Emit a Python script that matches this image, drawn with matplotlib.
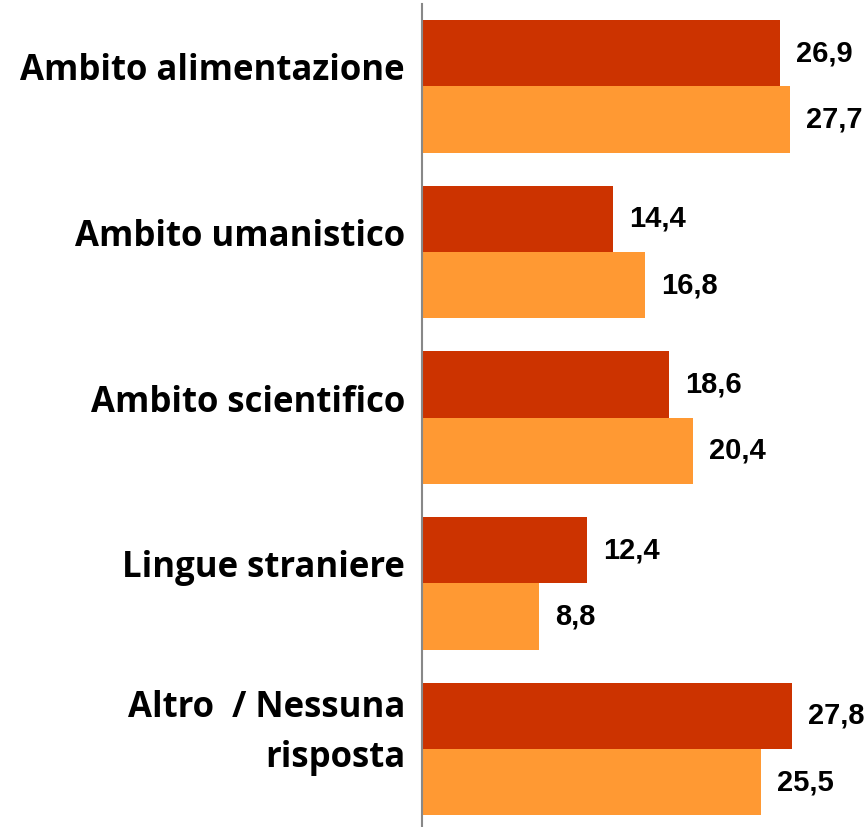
import matplotlib
matplotlib.use("Agg")
import matplotlib.pyplot as plt
import numpy as np

categories = ["Ambito alimentazione", "Ambito umanistico", "Ambito scientifico",
              "Lingue straniere", "Altro  / Nessuna\nrisposta"]
serie_1 = [26.9, 14.4, 18.6, 12.4, 27.8]
serie_2 = [27.7, 16.8, 20.4, 8.8, 25.5]

color_1 = "#CC3300"
color_2 = "#FF9933"

fig = plt.figure(figsize=(8.66, 8.27), dpi=100)
ax = fig.add_axes([422/866, 0.0, 1 - 422/866, 1 - 4/827])

pos = np.arange(len(categories))
h = 0.4
b1 = ax.barh(pos - h/2, serie_1, height=h, color=color_1)
b2 = ax.barh(pos + h/2, serie_2, height=h, color=color_2)

ax.set_xlim(0, 33.4)
ax.set_ylim(4.471, -0.498)

for bars, vals in ((b1, serie_1), (b2, serie_2)):
    for rect, v in zip(bars, vals):
        y = rect.get_y() + rect.get_height()/2
        ax.annotate(f"{v:.1f}".replace(".", ","), xy=(v, y), xytext=(16, 0),
                    textcoords="offset pixels", ha="left", va="center",
                    fontsize=21, fontweight="bold", family="Liberation Sans")

for p, c in zip(pos, categories):
    nlines = c.count("\n") + 1
    ax.annotate(c, xy=(0, p), xytext=(-17, 6 - (nlines - 1) * 24),
                textcoords="offset pixels",
                ha="right", va="baseline", multialignment="right",
                fontsize=25, fontweight="bold", family="Open Sans", linespacing=1.5)

for s in ("top", "right", "bottom"):
    ax.spines[s].set_visible(False)
ax.spines["left"].set_color("#888888")
ax.spines["left"].set_linewidth(1.5)
ax.set_xticks([])
ax.set_yticks([])

fig.savefig("out.png", dpi=100)
